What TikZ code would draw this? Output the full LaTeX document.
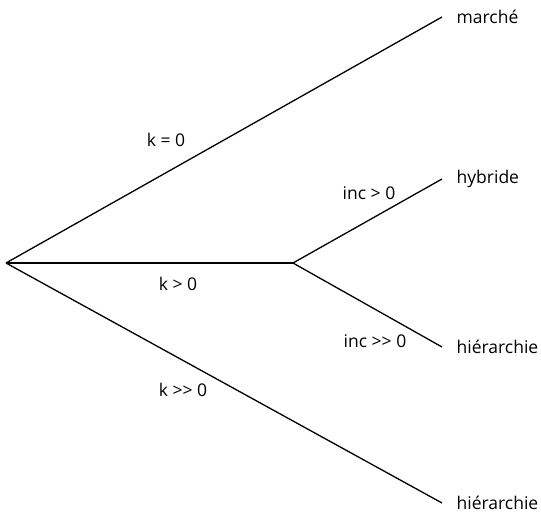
\documentclass[tikz,border=0pt]{standalone}
\usepackage{fontspec}
\setmainfont{Open Sans}[Ligatures=TeXOff]
\usepackage{tikz}
\usetikzlibrary{positioning}

\begin{document}
\begin{tikzpicture}[x=100pt, y=-100pt, line width=1.3pt,
    lab/.style={font=\fontsize{17.5}{20}\selectfont, inner sep=0pt},
    leaf/.style={lab, anchor=west}]
  \useasboundingbox (0,0) rectangle (5.41,5.19);
  % branching points and line ends
  \coordinate (root) at (0.06,2.63);
  \coordinate (split) at (2.93,2.63);
  \coordinate (endM) at (4.42,0.17);
  \coordinate (endH) at (4.42,1.79);
  \coordinate (endR) at (4.42,3.47);
  \coordinate (endB) at (4.42,5.03);
  % branches
  \draw (root) -- (endM);
  \draw (root) -- (split);
  \draw (split) -- (endH);
  \draw (split) -- (endR);
  \draw (root) -- (endB);
  % outcomes
  \node[leaf] (marche) at (4.56,0.17) {marché};
  \node[leaf] (hybride) at (4.56,1.79) {hybride};
  \node[leaf] (hierA) at (4.56,3.47) {hiérarchie};
  \node[leaf] (hierB) at (4.56,5.03) {hiérarchie};
  % conditions
  \node[lab] (kzero) at (1.66,1.40) {k = 0};
  \node[lab] (kpos) at (1.78,2.84) {k > 0};
  \node[lab] (kbig) at (1.83,3.90) {k >> 0};
  \node[lab] (incpos) at (3.69,1.93) {inc > 0};
  \node[lab] (incbig) at (3.75,3.41) {inc >> 0};
\end{tikzpicture}
\end{document}
